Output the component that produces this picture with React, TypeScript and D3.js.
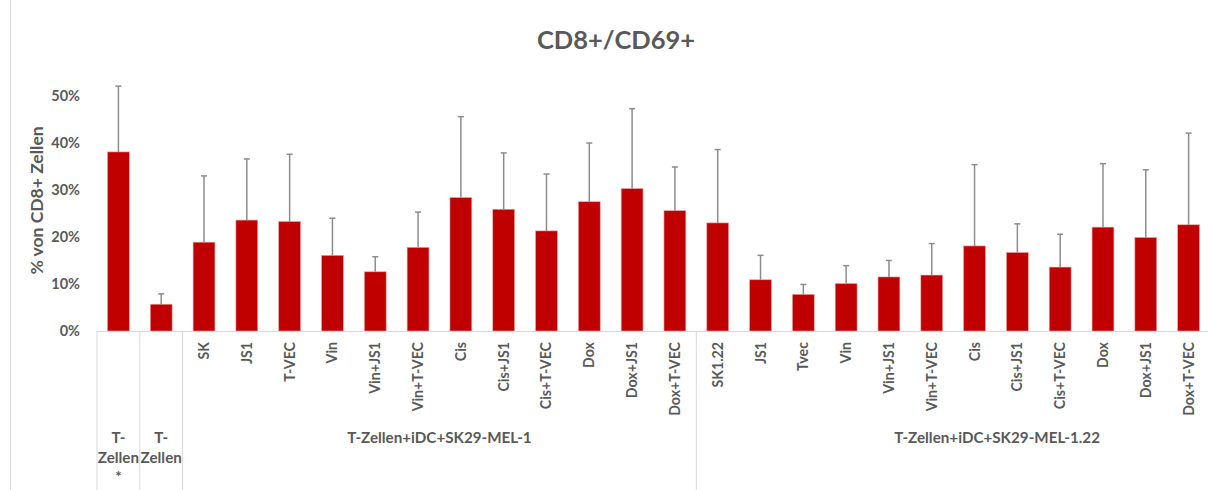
import React from "react";
import * as d3 from "d3";

const categories = [
  "T-Zellen*", "T-Zellen",
  "SK", "JS1", "T-VEC", "Vin", "Vin+JS1", "Vin+T-VEC", "Cis", "Cis+JS1", "Cis+T-VEC", "Dox", "Dox+JS1", "Dox+T-VEC",
  "SK1.22", "JS1", "Tvec", "Vin", "Vin+JS1", "Vin+T-VEC", "Cis", "Cis+JS1", "Cis+T-VEC", "Dox", "Dox+JS1", "Dox+T-VEC",
];
const values = [
  0.381, 0.057,
  0.189, 0.236, 0.233, 0.161, 0.126, 0.178, 0.284, 0.259, 0.213, 0.275, 0.303, 0.256,
  0.230, 0.109, 0.078, 0.101, 0.115, 0.119, 0.181, 0.167, 0.136, 0.221, 0.199, 0.226,
];
const errorTops = [
  0.521, 0.079,
  0.330, 0.366, 0.376, 0.240, 0.158, 0.253, 0.456, 0.379, 0.334, 0.400, 0.473, 0.349,
  0.386, 0.161, 0.099, 0.139, 0.150, 0.186, 0.354, 0.228, 0.206, 0.356, 0.343, 0.421,
];
const groups = [
  { lines: ["T-", "Zellen", "*"], start: 0, end: 1 },
  { lines: ["T-", "Zellen"], start: 1, end: 2 },
  { lines: ["T-Zellen+iDC+SK29-MEL-1"], start: 2, end: 14 },
  { lines: ["T-Zellen+iDC+SK29-MEL-1.22"], start: 14, end: 26 },
];
const yTicks = [0, 0.1, 0.2, 0.3, 0.4, 0.5];
const title = "CD8+/CD69+";
const yTitle = "% von CD8+ Zellen";

const W = 1208;
const H = 490;
const FONT = "Lato, 'Open Sans', sans-serif";
const GREY = "#595959";

export default function App() {
  const x = d3
    .scaleBand<number>()
    .domain(categories.map((_, i) => i))
    .range([97, 1210])
    .paddingInner(0)
    .paddingOuter(0);
  const y = d3.scaleLinear().domain([0, 0.5]).range([331, 96]);
  const bw = x.bandwidth();
  const barW = bw * 0.51;
  const y0 = y(0);
  const fmt = d3.format(".0%");

  const sepIdx = [0, 1, 2, 14, 26];

  return (
    <div style={{ position: "fixed", left: 0, top: 0 }}>
      <svg width={W} height={H} style={{ display: "block", background: "#fff" }}>
        <line x1={10.5} x2={10.5} y1={0} y2={H} stroke="#d9d9d9" strokeWidth={1} />
        <text x={616} y={49} textAnchor="middle" fontFamily={FONT} fontWeight="bold" fontSize={25.5} fill={GREY}>
          {title}
        </text>
        <text
          transform={`translate(43,${(y(0) + y(0.5)) / 2 - 13}) rotate(-90)`}
          textAnchor="middle"
          fontFamily={FONT}
          fontWeight="bold"
          fontSize={17.5}
          fill={GREY}
        >
          {yTitle}
        </text>
        {yTicks.map((t) => (
          <text key={t} x={80} y={y(t)} dy="0.35em" textAnchor="end" fontFamily={FONT} fontWeight="bold" fontSize={14.5} fill={GREY}>
            {fmt(t)}
          </text>
        ))}
        {values.map((v, i) => (
          <rect
            key={i}
            x={(x(i) as number) + (bw - barW) / 2}
            y={y(v)}
            width={barW}
            height={y0 - y(v)}
            fill="#C00000"
            stroke="#e9a3a3"
            strokeWidth={0.6}
          />
        ))}
        {errorTops.map((e, i) => {
          const cx = (x(i) as number) + bw / 2;
          return (
            <g key={i} stroke="#8c8c8c" strokeWidth={1.5}>
              <line x1={cx} x2={cx} y1={y(values[i])} y2={y(e)} />
              <line x1={cx - 3} x2={cx + 3} y1={y(e)} y2={y(e)} />
            </g>
          );
        })}
        <line x1={x(0)} x2={1210} y1={y0 + 0.5} y2={y0 + 0.5} stroke="#d9d9d9" strokeWidth={1} />
        {sepIdx.map((k) => {
          const xx = k < categories.length ? (x(k) as number) : (x(categories.length - 1) as number) + bw;
          return <line key={k} x1={xx} x2={xx} y1={y0} y2={H} stroke="#d9d9d9" strokeWidth={1} />;
        })}
        {categories.map((c, i) =>
          i < 2 ? null : (
            <text
              key={i}
              transform={`translate(${(x(i) as number) + bw / 2},${y0 + 11}) rotate(-90)`}
              textAnchor="end"
              dy="0.35em"
              fontFamily={FONT}
              fontWeight="bold"
              fontSize={14.2}
              fill={GREY}
            >
              {c}
            </text>
          )
        )}
        {groups.map((g, gi) => {
          let cx = ((x(g.start) as number) + (x(g.end - 1) as number) + bw) / 2;
          if (gi === 3) cx += 44;
          return (
            <text key={gi} textAnchor="middle" fontFamily={FONT} fontWeight="bold" fontSize={15.2} fill={GREY}>
              {g.lines.map((l, li) => (
                <tspan key={li} x={cx} y={443 + li * 19.5}>
                  {l}
                </tspan>
              ))}
            </text>
          );
        })}
      </svg>
    </div>
  );
}
